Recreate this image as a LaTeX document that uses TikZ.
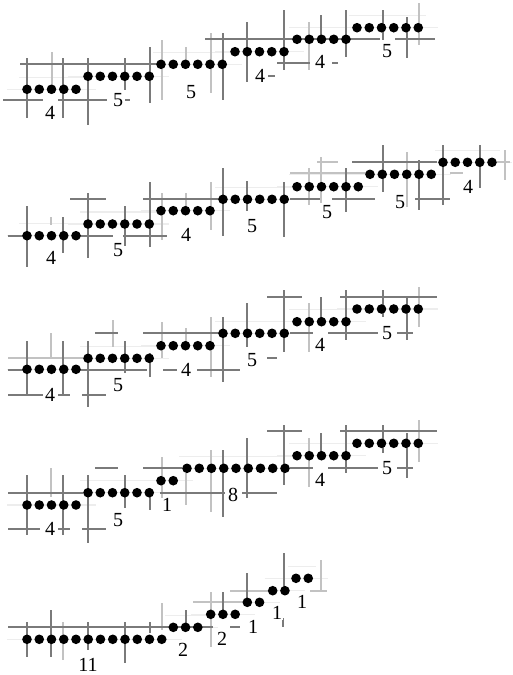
\documentclass[tikz,border=0pt]{standalone}
\usepackage{fontspec}
\setmainfont{Liberation Serif}
\begin{document}
\begin{tikzpicture}[x=1pt,y=-1pt,
  dot/.style={circle,fill=black,inner sep=0pt,minimum size=9.6pt},
  gl/.style={draw=black!52,line width=1.3pt},
  ll/.style={draw=black!24,line width=1.1pt},
  fl/.style={draw=black!7,line width=1.2pt},
  lab/.style={inner sep=0.6pt,fill=white,font=\fontsize{20}{21}\selectfont}]
\useasboundingbox (0,0) rectangle (513,675);
% faint background lines at each group level
\foreach \x/\y/\n in {27/89.3/5,88/76.3/6,161/64.3/6,235/51.7/5,297/39.3/5,357/27.7/6,
  27/235.7/5,88/224/6,161/210.7/5,223/199.3/6,297/186.7/6,370/174.3/6,443/162.3/5,
  27/369.3/5,88/358.3/6,161/345.7/5,223/333.3/6,297/321.7/5,357/309/6,
  27/505/5,88/492.7/6,161/480.7/2,187/468.3/9,297/455.7/5,357/443.3/6,
  27/639.3/12,173.3/627.3/3,210.7/614.3/3,247.3/602.3/2,272.7/590.7/2,296/578.3/2}
  {\draw[fl] ({\x-20},\y) -- ({\x+(\n-1)*12.25+20},\y);
   \draw[fl] ({\x-8},{\y-12}) -- ({\x+(\n-1)*12.25+8},{\y-12});}
% light vertical lines
\foreach \x/\a/\b in {52/52/90,162/40/100,186/47/65,211/33/93,309/22/70,419/3/45,
  51/217/225,162/193/240,186/193/211,211/182/230,309/168/205,321/157/203,407/152/207,505/150/180,
  51/333/357,113/320/347,162/322/358,186/328/343,211/317/377,309/303/352,419/287/327,
  51/468/497,162/457/500,186/473/505,211/450/512,309/438/487,419/420/462,
  63/622/660,162/603/630,211/592/647,321/560/590}
  {\draw[ll] (\x,\a) -- (\x,\b);}
% light horizontal lines
\foreach \y/\a/\b in {173/290/367,173/450/463,162/317/338,162/497/510,
  358/8/83,602/193/247,591/230/270,591/310/327}
  {\draw[ll] (\a,\y) -- (\b,\y);}
% dark vertical lines
\foreach \x/\a/\b in {27/58/118,63/58/118,88/58/125,125/58/90,150/47/103,223/33/100,247/22/82,
  284/10/70,321/15/40,346/10/57,383/10/40,407/17/58,
  27/206/267,63/217/253,88/193/258,125/206/246,150/182/247,223/168/236,247/181/211,
  284/182/237,346/168/212,383/145/192,419/160/210,443/145/205,480/145/188,
  27/341/395,63/341/395,88/341/407,125/341/373,150/353/377,223/317/382,247/303/347,
  284/290/352,321/297/320,346/290/340,383/290/317,407/298/340,
  27/475/535,63/475/535,88/475/543,125/475/508,150/488/510,223/450/517,247/438/498,
  284/425/485,321/433/457,346/425/473,383/425/453,407/433/478,
  27/622/657,51/610/657,88/622/650,125/622/663,150/622/633,186/610/630,223/592/618,
  247/573/603,284/553/593,283/618/627}
  {\draw[gl] (\x,\a) -- (\x,\b);}
% dark horizontal lines
\foreach \y/\a/\b in {64/20/157,100/3/43,100/58/107,100/125/130,39/205/380,39/395/435,63/277/310,63/332/338,76/268/275,
  236/8/27,236/77/113,236/123/167,199/70/106,199/143/223,199/290/320,199/332/375,199/415/450,162/352/437,
  395/8/43,395/58/70,395/82/106,370/8/27,370/77/147,370/163/177,370/197/240,
  333/95/118,333/143/223,333/290/313,333/328/378,333/397/413,297/267/302,297/340/437,358/267/277,
  529/8/40,529/58/70,529/82/106,493/8/83,493/160/225,493/242/277,
  468/95/118,468/143/182,468/290/313,468/328/378,468/397/413,431/267/302,431/340/437,
  627/8/213,627/230/240}
  {\draw[gl] (\a,\y) -- (\b,\y);}
% dots
\foreach \nm/\x/\y/\n in {a1/27/89.3/5,a2/88/76.3/6,a3/161/64.3/6,a4/235/51.7/5,a5/297/39.3/5,a6/357/27.7/6,
  b1/27/235.7/5,b2/88/224/6,b3/161/210.7/5,b4/223/199.3/6,b5/297/186.7/6,b6/370/174.3/6,b7/443/162.3/5,
  c1/27/369.3/5,c2/88/358.3/6,c3/161/345.7/5,c4/223/333.3/6,c5/297/321.7/5,c6/357/309/6,
  d1/27/505/5,d2/88/492.7/6,d3/161/480.7/2,d4/187/468.3/9,d5/297/455.7/5,d6/357/443.3/6,
  e1/27/639.3/12,e2/173.3/627.3/3,e3/210.7/614.3/3,e4/247.3/602.3/2,e5/272.7/590.7/2,e6/296/578.3/2}
  {\foreach \i in {1,...,\n}
    {\node[dot] (\nm-\i) at ({\x+(\i-1)*12.25},\y) {};}}
% labels
\foreach \nm/\x/\y/\t in {la1/50/113/4,la2/118/100/5,la3/191/92/5,la4/260/76/4,la5/320/62/4,la6/387/51/5,
  lb1/51/258/4,lb2/118/250/5,lb3/186/235/4,lb4/252/226/5,lb5/327/212/5,lb6/400/202/5,lb7/468/187/4,
  lc1/50/395/4,lc2/118/385/5,lc3/186/370/4,lc4/252/360/5,lc5/320/345/4,lc6/387/333/5,
  ld1/50/529/4,ld2/118/520/5,ld3/167/505/1,ld4/233/495/8,ld5/320/480/4,ld6/387/468/5,
  le1/88/665/11,le2/183/650/2,le3/222/639/2,le4/253/627/1,le5/277/613/1,le6/302/602/1}
  {\node[lab] (\nm) at (\x,\y) {\t};}
\end{tikzpicture}
\end{document}
